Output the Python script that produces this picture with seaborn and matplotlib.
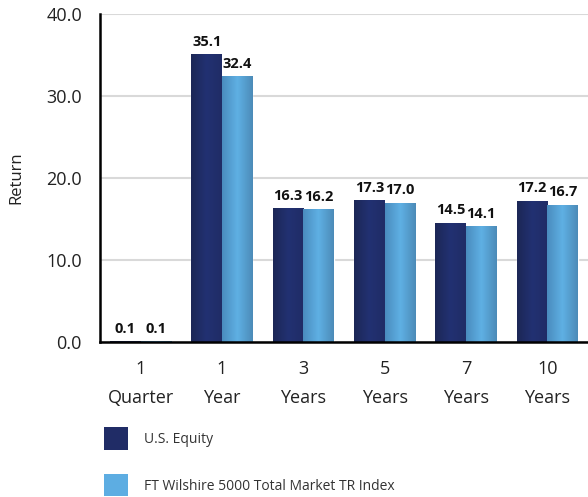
import numpy as np
import pandas as pd
import seaborn as sns
import matplotlib.pyplot as plt
from matplotlib.patches import Patch
from matplotlib.colors import LinearSegmentedColormap

# Datos del gráfico
periodos = ["1\nQuarter", "1\nYear", "3\nYears", "5\nYears", "7\nYears", "10\nYears"]
us_equity = [0.1, 35.1, 16.3, 17.3, 14.5, 17.2]
wilshire = [0.1, 32.4, 16.2, 17.0, 14.1, 16.7]
series = ["U.S. Equity", "FT Wilshire 5000 Total Market TR Index"]
colores = ["#202C66", "#5DADE2"]

df = pd.DataFrame({
    "Periodo": periodos * 2,
    "Serie": [series[0]] * len(periodos) + [series[1]] * len(periodos),
    "Return": us_equity + wilshire,
})

sns.set_style("white")
plt.rcParams["font.family"] = ["Open Sans", "DejaVu Sans"]

fig = plt.figure(figsize=(5.88, 4.97), dpi=100)
ax = fig.add_axes([0.170, 0.312, 0.830, 0.660])

sns.barplot(data=df, x="Periodo", y="Return", hue="Serie", palette=colores,
            width=0.75, gap=0, saturation=1, legend=False, ax=ax)

# Degradado horizontal en cada barra
grad_dark = LinearSegmentedColormap.from_list("d", ["#1C2756", "#223172", "#202C66"])
grad_light = LinearSegmentedColormap.from_list("l", ["#4A8CBE", "#5FB0E4", "#4C8BB8"])
for cont, cmap in zip(ax.containers, [grad_dark, grad_light]):
    for p in cont.patches:
        x0, y0 = p.get_x(), p.get_y()
        w, h = p.get_width(), p.get_height()
        im = ax.imshow(np.linspace(0, 1, 64).reshape(1, -1), cmap=cmap, aspect="auto",
                       extent=[x0, x0 + w, y0, y0 + h], zorder=p.get_zorder() + 0.1)
        im.set_clip_path(p)
    ax.bar_label(cont, fmt="%.1f", padding=4, fontsize=10.5, fontweight="bold", color="#111111")

ax.set_xlim(-0.5, 5.5)
ax.set_ylim(0, 40)
ax.set_yticks([0, 10, 20, 30, 40])
ax.set_yticklabels([f"{v:.1f}" for v in [0, 10, 20, 30, 40]])
ax.yaxis.grid(True, color="#D9D9D9", linewidth=1.5)
ax.set_axisbelow(True)
ax.tick_params(axis="y", length=9, color="#D9D9D9", width=1.5, labelsize=13, labelcolor="#222222", pad=4)
ax.tick_params(axis="x", length=7, color="#D9D9D9", width=1.5, labelsize=13, labelcolor="#222222", pad=6)
for t in ax.get_xticklabels():
    t.set_linespacing(1.8)
ax.set_xlabel("")
ax.set_ylabel("Return", fontsize=12, color="#222222", labelpad=16)

for s in ["top", "right"]:
    ax.spines[s].set_visible(False)
for s in ["left", "bottom"]:
    ax.spines[s].set_color("black")
    ax.spines[s].set_linewidth(1.8)

handles = [Patch(facecolor=c, edgecolor="none") for c in colores]
fig.legend(handles, series, loc="upper left", bbox_to_anchor=(0.177, 0.14),
           frameon=False, fontsize=10, handlelength=1.75, handleheight=2.1,
           labelspacing=1.75, handletextpad=1.1, borderpad=0, borderaxespad=0,
           labelcolor="#333333")

fig.savefig("out.png", dpi=100)
